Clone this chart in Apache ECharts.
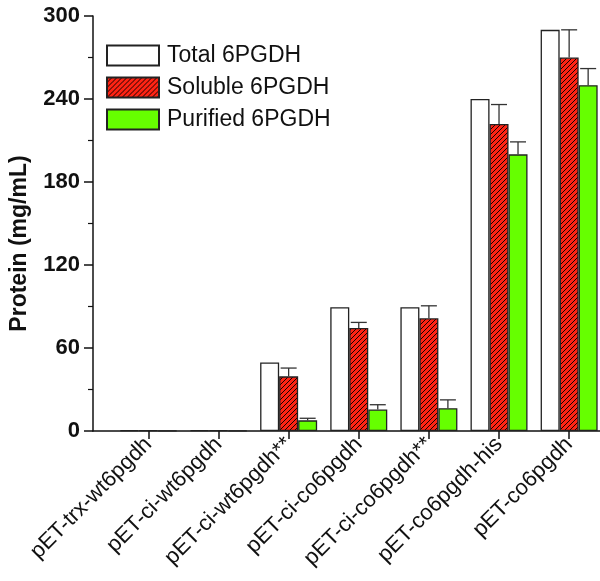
<!DOCTYPE html>
<html>
<head>
<meta charset="utf-8">
<script src="https://cdn.jsdelivr.net/npm/echarts@6/dist/echarts.min.js"></script>
<style>
html, body { margin: 0; padding: 0; background: #fff; }
#chart { width: 600px; height: 581px; }
</style>
</head>
<body>
<div id="chart"></div>
<script>
// 质粒名称
var constructs = ['pET-trx-wt6pgdh', 'pET-ci-wt6pgdh', 'pET-ci-wt6pgdh**', 'pET-ci-co6pgdh',
    'pET-ci-co6pgdh**', 'pET-co6pgdh-his', 'pET-co6pgdh'];
var positions = [1, 2, 3, 4, 5, 6, 7];
var yTicks = [0, 60, 120, 180, 240, 300];

var totalVals = [0.6, 0.6, 49.5, 89.5, 89.5, 240, 290];
var solubleVals = [0.4, 0.4, 39.5, 74.5, 81.5, 222, 270];
var solubleErr = [0, 0, 6, 4, 9, 14, 20];
var purifiedVals = [0.3, 0.3, 7.7, 15.5, 16.5, 200, 250];
var purifiedErr = [0, 0, 1.5, 3.5, 6, 9, 12];

var seriesNames = ['Total 6PGDH', 'Soluble 6PGDH', 'Purified 6PGDH'];

var myChart = echarts.init(document.getElementById('chart'));

function hatch() {// 红色斜线填充
    var c = document.createElement('canvas');
    c.width = 5; c.height = 5;
    var ctx = c.getContext('2d');
    ctx.fillStyle = '#ff2414';
    ctx.fillRect(0, 0, 5, 5);
    ctx.strokeStyle = '#1a0000';
    ctx.lineWidth = 1;
    ctx.beginPath();
    ctx.moveTo(-1, 6); ctx.lineTo(6, -1);
    ctx.moveTo(-1, 1); ctx.lineTo(1, -1);
    ctx.moveTo(4, 6); ctx.lineTo(6, 4);
    ctx.stroke();
    return { image: c, repeat: 'repeat' };
}

var barW = 19;

function pairs(vals) {
    return vals.map(function (v, i) { return [positions[i], v]; });
}

function errItem(shift) {// 误差线
    return function (params, api) {
        var x = api.value(0), v = api.value(1), e = api.value(2);
        if (!e) return;
        var base = api.coord([x, v]);
        var top = api.coord([x, v + e]);
        var cx = base[0] + shift;
        var st = { stroke: '#333', lineWidth: 1.3 };
        return {
            type: 'group',
            children: [
                { type: 'line', shape: { x1: cx, y1: base[1], x2: cx, y2: top[1] }, style: st },
                { type: 'line', shape: { x1: cx - 8, y1: top[1], x2: cx + 8, y2: top[1] }, style: st }
            ]
        };
    };
}

function errData(vals, errs) {
    return vals.map(function (v, i) { return [positions[i], v, errs[i]]; });
}

var option = {
    animation: false,
    backgroundColor: '#fff',
    textStyle: { fontFamily: 'Liberation Sans, Arial, sans-serif' },
    legend: {
        orient: 'vertical',
        left: 106,
        top: 44,
        padding: 0,
        icon: 'rect',
        itemWidth: 52,
        itemHeight: 20,
        itemGap: 9,
        textStyle: { fontSize: 23, color: '#111', lineHeight: 20, padding: [0, 0, 0, 3] },
        data: seriesNames
    },
    grid: { left: 88, right: 0, top: 16, bottom: 150, containLabel: false },
    xAxis: {
        type: 'value',
        min: 0.21,
        max: 7.44,
        splitLine: { show: false },
        axisLine: { lineStyle: { color: '#111', width: 1.5 } },
        axisTick: { show: true, length: 8, customValues: positions, lineStyle: { color: '#111', width: 1.5 } },
        axisLabel: {
            customValues: positions,
            rotate: 45,
            fontSize: 22,
            color: '#111',
            margin: 10,
            formatter: function (v) { return constructs[Math.round(v) - 1]; }
        }
    },
    yAxis: {
        type: 'value',
        min: 0,
        max: 300,
        interval: 60,
        name: 'Protein (mg/mL)',
        nameLocation: 'middle',
        nameGap: 62,
        nameTextStyle: { fontSize: 23, fontWeight: 'bold', color: '#111', padding: [0, 40, 0, 0] },
        splitLine: { show: false },
        axisLine: { show: true, lineStyle: { color: '#111', width: 1.5 } },
        axisTick: { show: true, length: 9, lineStyle: { color: '#111', width: 1.5 } },
        minorTick: { show: true, splitNumber: 2, length: 5, lineStyle: { color: '#111', width: 1.2 } },
        axisLabel: {
            fontSize: 22,
            fontWeight: 'bold',
            color: '#111',
            margin: 13,
            customValues: yTicks
        }
    },
    series: [
        {
            name: seriesNames[0],
            type: 'bar',
            barWidth: barW,
            barGap: '0%',
            itemStyle: { color: '#fff', borderColor: '#222', borderWidth: 1.3 },
            data: pairs(totalVals)
        },
        {
            name: seriesNames[1],
            type: 'bar',
            barWidth: barW,
            barGap: '0%',
            itemStyle: { color: hatch(), borderColor: '#222', borderWidth: 1.3 },
            data: pairs(solubleVals)
        },
        {
            name: seriesNames[2],
            type: 'bar',
            barWidth: barW,
            barGap: '0%',
            itemStyle: { color: '#66ff00', borderColor: '#222', borderWidth: 1.3 },
            data: pairs(purifiedVals)
        },
        {
            type: 'custom',
            renderItem: errItem(0),
            z: 3,
            data: errData(solubleVals, solubleErr)
        },
        {
            type: 'custom',
            renderItem: errItem(barW),
            z: 3,
            data: errData(purifiedVals, purifiedErr)
        }
    ]
};
myChart.setOption(option);
</script>
</body>
</html>
